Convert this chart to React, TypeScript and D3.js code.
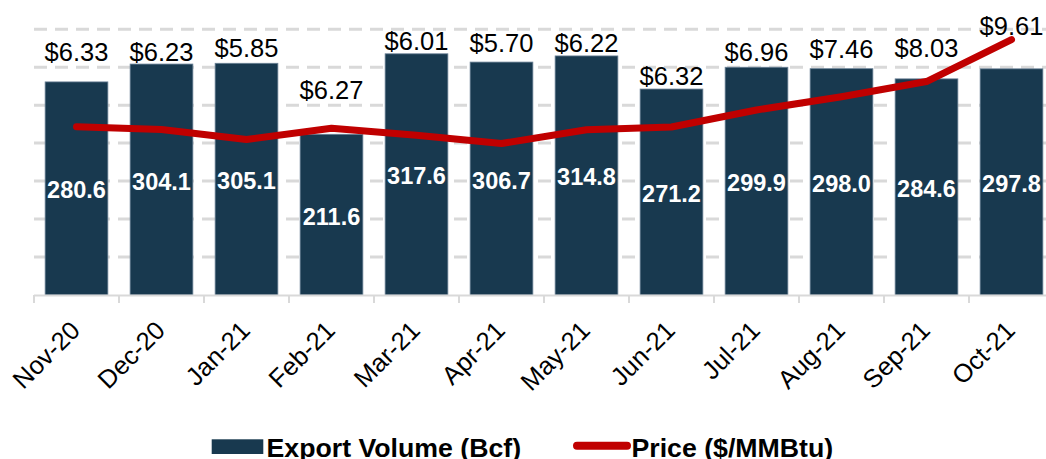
import React from "react";
import * as d3 from "d3";

const months = ["Nov-20", "Dec-20", "Jan-21", "Feb-21", "Mar-21", "Apr-21", "May-21", "Jun-21", "Jul-21", "Aug-21", "Sep-21", "Oct-21"];
const exportVolume = [280.6, 304.1, 305.1, 211.6, 317.6, 306.7, 314.8, 271.2, 299.9, 298.0, 284.6, 297.8];
const price = [6.33, 6.23, 5.85, 6.27, 6.01, 5.70, 6.22, 6.32, 6.96, 7.46, 8.03, 9.61];
const volumeTicks = [0, 50, 100, 150, 200, 250, 300, 350];

// layout-only: how far each price label sits above its bar top (px)
const priceLabelLift = [21, 3.5, 6.5, 35.5, 3.5, 10, 4, 4, 6, 11, 22, 34];

const W = 1046;
const H = 459;
const left = 34;
const right = 1054;
const top = 29.2;
const bottom = 295;

const BAR = "#18394f";
const RED = "#c00000";
const GRID = "#d9d9d9";
const FONT = "Liberation Sans, Arial, Helvetica, sans-serif";

export default function App() {
  const x = d3.scaleBand<string>().domain(months).range([left, right]).paddingInner(0.262).paddingOuter(0.131);
  const xc = (m: string) => (x(m) as number) + x.bandwidth() / 2;
  const step = x.step();
  const y = d3.scaleLinear().domain([0, 350]).range([bottom, top]);
  const y2 = d3.scaleLinear().domain([0, 10]).range([bottom, top]);

  const line = d3
    .line<number>()
    .x((_, i) => xc(months[i]))
    .y((d) => y2(d));

  const boundaries = d3.range(months.length + 1).map((i) => left + i * step);

  return (
    <svg
      width={W}
      height={H}
      style={{ position: "absolute", left: 0, top: 0, display: "block", background: "#fff" }}
      fontFamily={FONT}
    >
      {/* gridlines */}
      {volumeTicks.filter((t) => t > 0).map((t) => (
        <line key={t} x1={left} x2={W} y1={y(t)} y2={y(t)} stroke={GRID} strokeWidth={3} strokeDasharray="13,8" />
      ))}
      {/* bars */}
      {exportVolume.map((v, i) => (
        <rect
          key={months[i]}
          x={x(months[i])}
          y={y(v)}
          width={x.bandwidth()}
          height={bottom - y(v)}
          fill={BAR}
          stroke="#6a8196"
          strokeWidth={0.8}
        />
      ))}
      {/* axis */}
      <line x1={left} x2={W} y1={bottom + 0.5} y2={bottom + 0.5} stroke={GRID} strokeWidth={2} />
      {boundaries.map((b, i) => (
        <line key={i} x1={b} x2={b} y1={bottom} y2={bottom + 8} stroke={GRID} strokeWidth={2} />
      ))}
      {/* bar labels */}
      {exportVolume.map((v, i) => (
        <text
          key={months[i]}
          x={xc(months[i])}
          y={(y(v) + bottom) / 2 + 10}
          textAnchor="middle"
          fill="#fff"
          fontWeight="bold"
          fontSize={23.5}
        >
          {v.toFixed(1)}
        </text>
      ))}
      {/* price line */}
      <path d={line(price) as string} fill="none" stroke={RED} strokeWidth={7} strokeLinejoin="round" strokeLinecap="round" />
      {/* price labels */}
      {price.map((p, i) => (
        <text
          key={months[i]}
          x={xc(months[i])}
          y={y(exportVolume[i]) - priceLabelLift[i]}
          textAnchor="middle"
          fill="#000"
          fontSize={25.5}
        >
          {"$" + p.toFixed(2)}
        </text>
      ))}
      {/* x labels */}
      {months.map((m) => (
        <text
          key={m}
          transform={`translate(${xc(m) + 5},${bottom + 37}) rotate(-45)`}
          textAnchor="end"
          fontSize={25.5}
          fill="#000"
        >
          {m}
        </text>
      ))}
      {/* legend */}
      <rect x={211.7} y={439.3} width={51.6} height={14.7} fill={BAR} />
      <text x={266.5} y={457} fontSize={26.7} fontWeight="bold" fill="#000">
        Export Volume (Bcf)
      </text>
      <line x1={577} x2={627} y1={445.8} y2={445.8} stroke={RED} strokeWidth={8} strokeLinecap="round" />
      <text x={631.5} y={457} fontSize={26.7} fontWeight="bold" fill="#000">
        Price ($/MMBtu)
      </text>
    </svg>
  );
}
